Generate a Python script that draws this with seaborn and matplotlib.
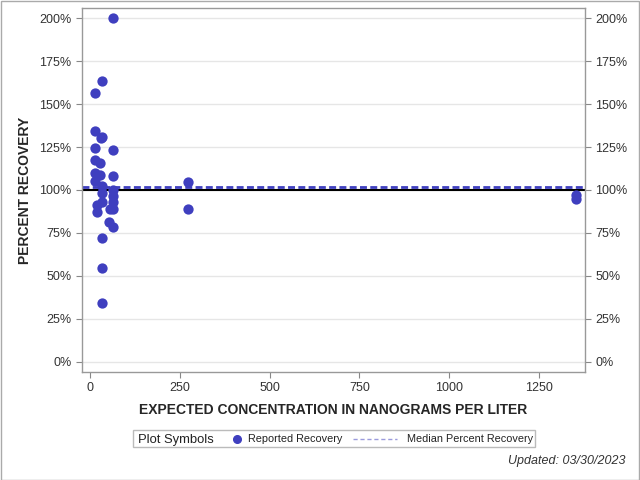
import matplotlib
matplotlib.use("Agg")
import matplotlib.pyplot as plt
import seaborn as sns
import pandas as pd
from matplotlib.lines import Line2D
from matplotlib.ticker import FuncFormatter

sns.set_style("white")
plt.rcParams['font.family'] = ['Liberation Sans', 'DejaVu Sans']

concentration = [64, 33, 14, 14, 30, 33, 14, 64, 14, 28, 14, 28, 64, 14, 33, 33,
                 64, 64, 20, 35, 64, 55, 64, 20, 52, 64, 33, 33, 33,
                 273, 273, 1353, 1353]
recovery = [200, 163.5, 156.5, 134.5, 130, 131, 124.5, 123.5, 117.5, 115.5, 110, 108.5, 108, 105.5, 102.5, 98,
            100, 96.5, 91.5, 93, 93, 89, 89, 87, 81.5, 78.5, 72, 54.5, 34,
            104.5, 89, 97, 94.5]
median_recovery = 101.5
reference_line = 100
x_ticks = [0, 250, 500, 750, 1000, 1250]
y_ticks = [0, 25, 50, 75, 100, 125, 150, 175, 200]

df = pd.DataFrame({"conc": concentration, "rec": recovery})

point_color = "#3f3fbf"

fig = plt.figure(figsize=(6.4, 4.8), dpi=100)
ax = fig.add_axes([82/640, 1-372/480, (585-82)/640, (372-8)/480])

for yt in y_ticks:
    ax.axhline(yt, color="#e6e6e6", lw=1, zorder=0)
ax.axhline(reference_line, color="black", lw=1.5, zorder=1)
ax.axhline(median_recovery, color=point_color, lw=2, ls=(0, (2.5, 1.2)), zorder=2)

sns.scatterplot(data=df, x="conc", y="rec", ax=ax, color=point_color, s=55,
                edgecolor=point_color, linewidth=0, zorder=3, legend=False)

ax.set_xlim(-22, 1378)
ax.set_ylim(-6, 206)
ax.set_xticks(x_ticks)
ax.set_yticks(y_ticks)
fmt = FuncFormatter(lambda v, p: f"{int(v)}%")
ax.yaxis.set_major_formatter(fmt)
ax.tick_params(axis="both", direction="out", length=4, color="#888888",
               labelsize=9, colors="#333333", left=True, bottom=True,
               right=True, labelright=True)
for sp in ax.spines.values():
    sp.set_color("#999999")
    sp.set_linewidth(1)

ax.set_xlabel("EXPECTED CONCENTRATION IN NANOGRAMS PER LITER", fontsize=10,
              fontweight="bold", labelpad=6)
ax.set_ylabel("PERCENT RECOVERY", fontsize=10, fontweight="bold", labelpad=5)

# legend (drawn as a box with entries in figure pixels)
W, H = 640, 480
def fx(px):
    return px / W
def fy(py):
    return 1 - py / H

fig.patches.append(plt.Rectangle((fx(133), fy(447)), (535-133)/W, (447-430)/H,
                                 transform=fig.transFigure, fill=False,
                                 edgecolor="#bbbbbb", lw=1))
fig.text(fx(138), fy(438.5), "Plot Symbols", fontsize=9.4, ha="left", va="center_baseline",
         color="#222222")
fig.lines.append(Line2D([fx(237)], [fy(438.5)], transform=fig.transFigure, ls="none",
                        marker="o", markersize=5.5, color=point_color))
fig.text(fx(248), fy(438.5), "Reported Recovery", fontsize=7.8, ha="left",
         va="center_baseline", color="#222222")
fig.lines.append(Line2D([fx(353), fx(397)], [fy(438.5), fy(438.5)], transform=fig.transFigure,
                        ls=(0, (3, 2)), color="#9b9bdc", lw=1))
fig.text(fx(407), fy(438.5), "Median Percent Recovery", fontsize=7.8, ha="left",
         va="center_baseline", color="#222222")

fig.text(626/640, 1-461/480, "Updated: 03/30/2023", ha="right", va="center",
         fontsize=9, style="italic", color="#333333")

# figure border
fig.patches.append(plt.Rectangle((0.001, 0.001), 0.997, 0.997, transform=fig.transFigure,
                                 fill=False, edgecolor="#aaaaaa", lw=1))

fig.savefig("out.png", dpi=100)
